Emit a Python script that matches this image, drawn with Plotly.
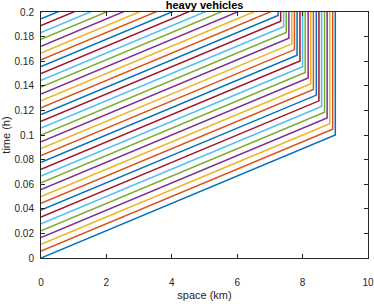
import plotly.graph_objects as go

# departure times at x = 0 (h), one per heavy vehicle
depart_times = [0.0, 0.0056, 0.0111, 0.0167, 0.0222, 0.0278, 0.0333, 0.0389, 0.0444, 0.05,
                0.0556, 0.0611, 0.0667, 0.0722, 0.0778, 0.0833, 0.0889, 0.0944, 0.1, 0.1056,
                0.1111, 0.1167, 0.1222, 0.1278, 0.1333, 0.1389, 0.1444, 0.15, 0.1556, 0.1611,
                0.1667, 0.1722, 0.1778, 0.1833, 0.1889, 0.1944, 0.2]
# positions where each vehicle joins the queue (km)
stop_positions = [9.0, 8.92, 8.83, 8.75, 8.67, 8.58, 8.5, 8.42, 8.33, 8.25,
                  8.17, 8.08, 8.0, 7.92, 7.83, 7.75, 7.67, 7.58, 7.5, 7.42,
                  7.33, 7.25, 7.17, 7.08, 7.0, 6.92, 6.83, 6.75, 6.67, 6.58,
                  6.5, 6.42, 6.33, 6.25, 6.17, 6.08, 6.0]
free_speed = 90.0   # km/h
t_end = 0.3         # simulation end (h)

x_ticks = [0, 2, 4, 6, 8, 10]
y_ticks = [0, 0.02, 0.04, 0.06, 0.08, 0.1, 0.12, 0.14, 0.16, 0.18, 0.2]

colors = ['#0072BD', '#D95319', '#EDB120', '#7E2F8E', '#77AC30', '#4DBEEE', '#A2142F']

fig = go.Figure()
for i, (t0, xs) in enumerate(zip(depart_times, stop_positions)):
    t_stop = t0 + xs / free_speed
    fig.add_trace(go.Scatter(
        x=[0, xs, xs], y=[t0, t_stop, max(t_end, t_stop)],
        mode='lines', line=dict(color=colors[i % 7], width=1.5),
        showlegend=False, hoverinfo='skip'))

font_fam = 'Liberation Sans, Arial'
axis_common = dict(
    showgrid=False, zeroline=False, showline=True, linecolor='#262626', linewidth=1,
    mirror='ticks', ticks='inside', ticklen=4, tickcolor='#262626', automargin=False,
    tickfont=dict(family=font_fam, size=10, color='#262626'),
)

fig.update_layout(
    width=374, height=304,
    margin=dict(l=41, r=6, t=12, b=46),
    paper_bgcolor='white', plot_bgcolor='white',
    title=dict(text='<b>heavy vehicles</b>', x=0.547, xanchor='center', y=0.997, yanchor='top',
               font=dict(family=font_fam, size=11, color='black')),
    xaxis=dict(range=[0, 10], tickvals=x_ticks, ticktext=[str(v) for v in x_ticks],
               ticklabelstandoff=15,
               title=dict(text='space (km)', standoff=4,
                          font=dict(family=font_fam, size=11, color='#262626')),
               **axis_common),
    yaxis=dict(range=[0, 0.2], tickvals=y_ticks, ticktext=['0'] + [('%g' % v) for v in y_ticks[1:]],
               ticklabelstandoff=4,
               title=dict(text='time (h)', standoff=5,
                          font=dict(family=font_fam, size=11, color='#262626')),
               **axis_common),
)

fig.write_html('out.html', config={'displayModeBar': False},
               post_script="document.body.style.margin='0';document.body.style.overflow='hidden';")
